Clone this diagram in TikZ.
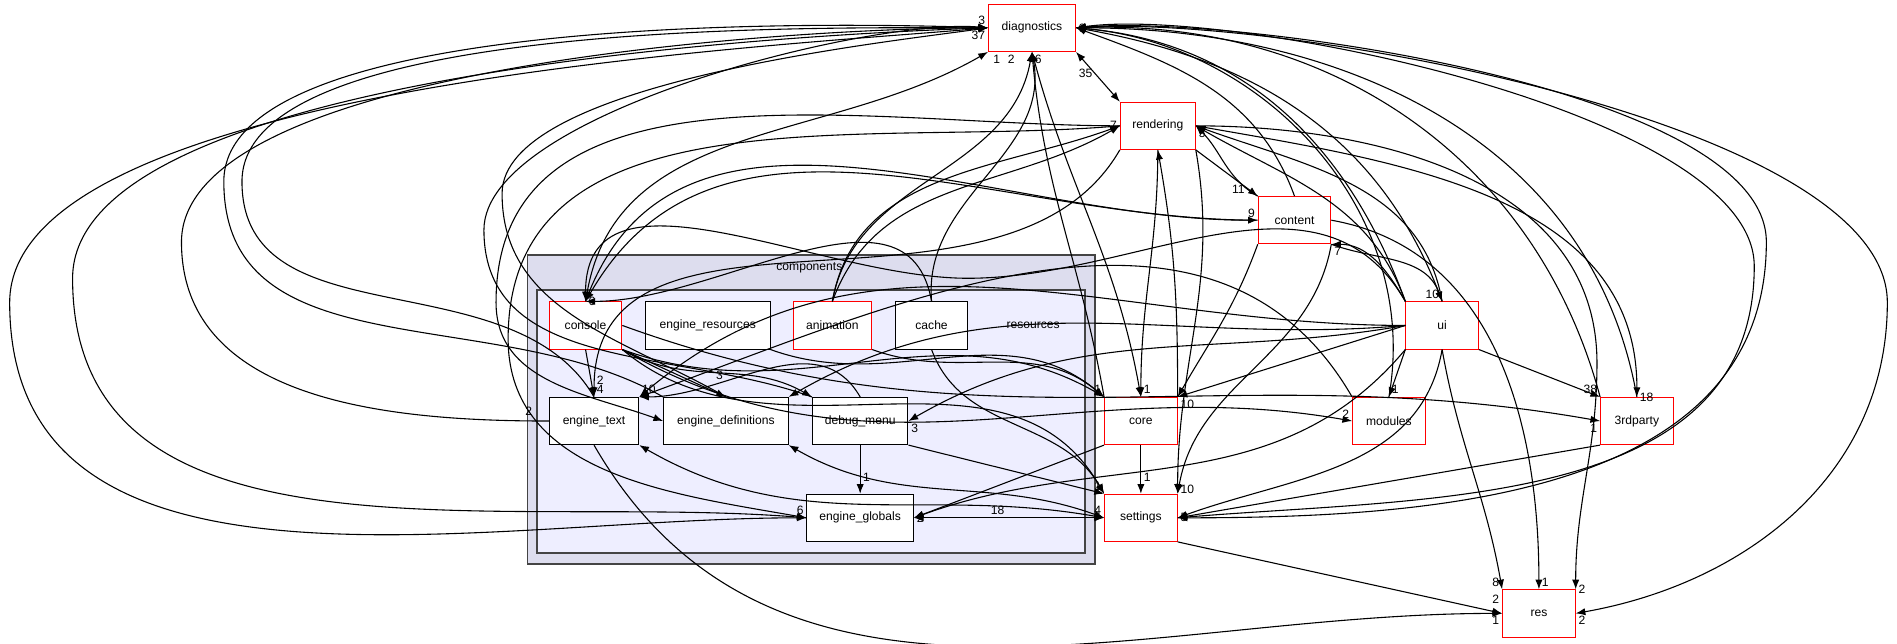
\documentclass[tikz,border=0pt]{standalone}
\usepackage{fontspec}
\setmainfont{Liberation Sans}
\usetikzlibrary{arrows.meta}
\begin{document}
\begin{tikzpicture}[x=0.5pt,y=-0.5pt,font=\fontsize{5}{6}\selectfont,
 box/.style={draw=black,fill=white,line width=0.4pt,minimum height=19.5pt,inner sep=0pt},
 rbox/.style={draw=red,fill=white,line width=0.4pt,minimum height=19.5pt,inner sep=0pt,minimum width=30pt},
 e/.style={-{Latex[length=4pt,width=3pt]},line width=0.45pt},
 be/.style={{Latex[length=4pt,width=3pt]}-{Latex[length=4pt,width=3pt]},line width=0.45pt},
 lab/.style={font=\fontsize{5}{6}\selectfont,inner sep=1pt},
 lt/.style={looseness=0.55}]
\useasboundingbox (0,0) rectangle (1568,532);
% clusters
\draw[fill={rgb,255:red,221;green,221;blue,238},draw={rgb,255:red,68;green,68;blue,68},line width=0.8pt] (436,211) rectangle (905,466);
\node at (669,221) {components};
\draw[fill={rgb,255:red,238;green,238;blue,255},draw={rgb,255:red,68;green,68;blue,68},line width=0.8pt] (444,240) rectangle (897,457);
\node at (854,269) {resources};
% nodes
\node[rbox,minimum width=36pt] (diag) at (853,23) {diagnostics};
\node[rbox,minimum width=31pt] (rend) at (957,104) {rendering};
\node[rbox] (cont) at (1070,182) {content};
\node[rbox] (ui) at (1192,269) {ui};
\node[rbox] (cons) at (484,269) {console};
\node[box,minimum width=51.5pt] (eres) at (585,269) {engine\_resources};
\node[rbox,minimum width=32.5pt] (anim) at (688,269) {animation};
\node[box,minimum width=29.5pt] (cache) at (770,269) {cache};
\node[box,minimum width=37pt] (etext) at (491,348) {engine\_text};
\node[box,minimum width=51.5pt] (edef) at (600,348) {engine\_definitions};
\node[box,minimum width=39.5pt] (dbg) at (711,348) {debug\_menu};
\node[rbox] (core) at (943,348) {core};
\node[rbox] (mod) at (1148,348) {modules};
\node[rbox] (third) at (1353,348) {3rdparty};
\node[box,minimum width=44pt] (eglob) at (711,428) {engine\_globals};
\node[rbox] (sett) at (943,428) {settings};
\node[rbox] (res) at (1272,507) {res};
% edges into diagnostics
\draw[e] (etext.west) to[out=180,in=-90] (150,200) to[out=90,in=180,lt] (diag.west) node[lab,above left] {3};
\draw[be] (eglob.west) to[out=180,in=-90] (8,250) to[out=90,in=185,lt] (diag.west);
\draw[e] (eglob.west) to[out=175,in=-90] (60,230) to[out=90,in=182,lt] (diag.west);
\draw[e] (etext.north) to[out=120,in=-90] (200,150) to[out=90,in=180,lt] (diag.west);
\draw[e] (edef.north west) to[out=150,in=-90] (185,150) to[out=90,in=178,lt] (diag.west);
\draw[e] (dbg.north west) to[out=160,in=-90] (400,190) to[out=90,in=175,lt] (diag.west);
\draw[e] (edef.north) to[out=150,in=-90] (415,160) to[out=90,in=188,lt] (diag.west) node[lab,below left] {37};
\draw[be] (cons.north) to[out=80,in=210] (diag.south west);
\draw[e] (anim.north) to[out=80,in=-100] (diag.south) node[lab,below left,xshift=-6pt] {2};
\draw[e] (cache.north) to[out=95,in=-80] (diag.south) node[lab,below left,xshift=-12pt] {1};
\draw[be] (core.north) to[out=100,in=-75] (diag.south);
\draw[e] (core.north west) to[out=100,in=-85] (diag.south) node[lab,below right] {6};
\draw[be] (rend.north west) -- (diag.south east) node[lab,below,xshift=4pt,yshift=-6pt] {35};
\draw[e] (cont.north) to[out=110,in=-20] (diag.east);
\draw[e] (ui.north) to[out=110,in=-10] (diag.east) node[lab,right] {9};
\draw[e] (ui.north west) to[out=110,in=-5] (diag.east);
\draw[e] (mod.north) to[out=80,in=-5] (diag.east);
\draw[e] (third.north) to[out=100,in=0] (diag.east);
\draw[e] (third.north west) to[out=105,in=2] (diag.east);
\draw[be] (sett.east) to[out=0,in=-90] (1460,200) to[out=90,in=5,lt] (diag.east);
\draw[e] (sett.east) to[out=5,in=-90] (1450,220) to[out=90,in=8,lt] (diag.east);
\draw[e] (diag.east) to[out=5,in=90,lt] (1560,250) to[out=-90,in=10] (res.east) node[lab,below right] {2};
% from rendering
\draw[e] (rend.south east) -- (cont.north west) node[lab,above,xshift=-8pt] {11};
\draw[e] (cont.north west) to[out=150,in=-45] (rend.east) node[lab,below right] {5};
\draw[e] (rend.south) to[out=-90,in=90] (core.north) node[lab,above right] {1};
\draw[e] (core.north east) to[out=90,in=-80] (rend.south);
\draw[e] (rend.south east) to[out=-80,in=90] (sett.north east) node[lab,right,yshift=2pt] {10};
\draw[e] (rend.east) to[out=0,in=90] (1320,300) to[out=-90,in=90] (res.north east) node[lab,right] {2};
\draw[e] (rend.east) to[out=-10,in=90] (third.north) node[lab,right] {18};
\draw[e] (rend.west) to[out=180,in=90] (410,250) to[out=-90,in=160] (edef.west);
\draw[e] (rend.west) to[out=185,in=90] (420,280) to[out=-90,in=170] (eglob.west) node[lab,above left] {6};
\draw[e] (rend.south west) to[out=-120,in=90] (etext.north) node[lab,above right] {4};
\draw[e] (anim.north) to[out=80,in=200] (rend.west) node[lab,left] {7};
\draw[e] (anim.north) to[out=70,in=210] (rend.west);
% ui
\draw[e] (ui.north west) to[out=110,in=-30] (rend.east);
\draw[e] (ui.north) to[out=100,in=-20] (rend.east);
\draw[e] (ui.north west) to[out=120,in=0] (cont.south east) node[lab,below right] {7};
\draw[e] (cont.south east) to[out=-20,in=110] (ui.north) node[lab,above left] {10};
\draw[e] (ui.north west) to[out=120,in=0] (800,230) to[out=180,in=90] (cons.north);
\draw[e] (ui.west) -- (core.north east) node[lab,below right] {10};
\draw[e] (ui.west) to[out=190,in=30] (dbg.east) node[lab,below right] {3};
\draw[e] (ui.west) to[out=185,in=30] (edef.north east);
\draw[e] (ui.west) to[out=180,in=40] (etext.north east);
\draw[e] (ui.south west) -- (mod.north) node[lab,above right] {1};
\draw[e] (ui.south east) -- (third.north west) node[lab,above left] {38};
\draw[e] (ui.south) to[out=-100,in=20] (sett.east);
\draw[e] (ui.south) to[out=-80,in=100] (res.north west) node[lab,above left] {8};
\draw[e] (ui.south west) to[out=-130,in=20] (eglob.east);
% content
\draw[e] (cont.west) to[out=180,in=60] (cons.north) node[lab,right] {6};
\draw[e] (cons.north) to[out=70,in=180] (cont.west) node[lab,above left] {9};
\draw[e] (cont.south west) to[out=-110,in=60] (core.north east);
\draw[e] (cont.south east) to[out=-100,in=80] (sett.north east);
\draw[e] (cont.east) to[out=-10,in=90] (res.north) node[lab,above right] {1};
% console & components
\draw[e] (cons.south) -- (etext.north) node[lab,above right,yshift=4pt] {2};
\draw[e] (cons.south east) -- (edef.north) node[lab,above left,yshift=6pt] {3};
\draw[e] (cons.south east) to[out=-30,in=150] (dbg.north west);
\draw[e] (cons.south east) to[out=-20,in=150] (core.north west);
\draw[e] (cons.south east) to[out=-40,in=120] (sett.north west);
\draw[e] (cons.east) to[out=-20,in=170] (third.west) node[lab,below left] {1};
\draw[e] (cons.south east) to[out=-30,in=170] (mod.west) node[lab,above left] {2};
\draw[e] (eres.south east) to[out=-20,in=140] (core.north west) node[lab,above left] {1};
\draw[e] (anim.south east) to[out=-20,in=140] (core.north west);
\draw[e] (cache.south) to[out=-70,in=120] (sett.north west) node[lab,above left] {1};
\draw[e] (cache.north) to[out=100,in=0] (cons.north);
\draw[be] (etext.south east) to[out=-30,in=170] (sett.west);
\draw[be] (edef.south east) to[out=-30,in=160] (sett.west) node[lab,above left] {4};
\draw[e] (dbg.south) -- (eglob.north) node[lab,above right,yshift=4pt] {1};
\draw[e] (dbg.south east) -- (sett.north west);
\draw[e] (core.south) -- (sett.north) node[lab,above right,yshift=4pt] {1};
\draw[e] (core.south west) -- (eglob.east) node[lab,right] {2};
\draw[be] (eglob.east) -- (sett.west) node[lab,above left,xshift=-40pt] {18};
\draw[e] (sett.south east) -- (res.west) node[lab,above left,yshift=3pt] {2};
\draw[e] (third.south west) -- (sett.east) node[lab,right] {5};
\draw[e] (mod.north west) to[out=120,in=20] (etext.north east);
\draw[e] (etext.south) to[out=-60,in=180] (res.west) node[lab,below left] {1};
\draw[e] (dbg.north) to[out=120,in=0] (etext.north east) node[lab,above right] {10};
\node[lab] at (437,340) {2};
\end{tikzpicture}
\end{document}
